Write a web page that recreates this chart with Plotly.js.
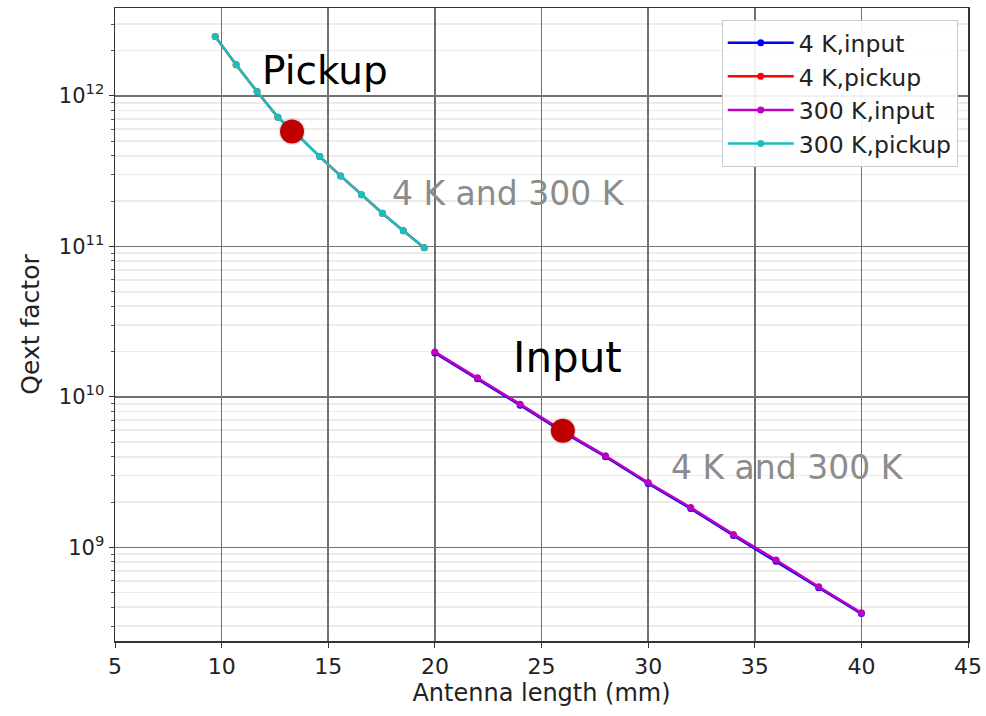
<!DOCTYPE html>
<html>
<head>
<meta charset="utf-8">
<script src="https://cdn.plot.ly/plotly-3.0.1.min.js"></script>
<style>html,body{margin:0;padding:0;background:#fff;}#chart{width:986px;height:716px;}</style>
</head>
<body>
<div id="chart"></div>
<script>
// Antenna length (mm)
const inputLength = [20, 22, 24, 26, 28, 30, 32, 34, 36, 38, 40];
const pickupLength = [9.7, 10.68, 11.66, 12.64, 13.62, 14.6, 15.58, 16.56, 17.54, 18.52, 19.5];

// Qext factor
const q4KInput = [1.96e10, 1.32e10, 8.8e9, 5.85e9, 4.0e9, 2.66e9, 1.81e9, 1.2e9, 8.1e8, 5.4e8, 3.63e8];
const q300KInput = [1.99e10, 1.34e10, 8.95e9, 5.95e9, 4.06e9, 2.70e9, 1.84e9, 1.22e9, 8.24e8, 5.48e8, 3.68e8];
const q4KPickup = [2.48e12, 1.61e12, 1.07e12, 7.2e11, 5.4e11, 3.95e11, 2.94e11, 2.2e11, 1.66e11, 1.27e11, 9.8e10];
const q300KPickup = [2.48e12, 1.61e12, 1.07e12, 7.2e11, 5.4e11, 3.95e11, 2.94e11, 2.2e11, 1.66e11, 1.27e11, 9.8e10];

// Highlighted operating points
const opLength = [13.3, 26];
const opQ = [5.8e11, 5.95e9];

const seriesNames = ['4 K,input', '4 K,pickup', '300 K,input', '300 K,pickup'];
const tickVals = [1e9, 1e10, 1e11, 1e12];
const tickText = ['10<sup>9</sup>', '10<sup>10</sup>', '10<sup>11</sup>', '10<sup>12</sup>'];
const xTicks = [5, 10, 15, 20, 25, 30, 35, 40, 45];

// minor log ticks (2..9 per decade)
const minorVals = [];
for (let e = 8; e <= 12; e++) for (let m = 2; m <= 9; m++) minorVals.push(m * Math.pow(10, e));

const line = (x, y, name, color) => ({
  x: x, y: y, name: name, type: 'scatter', mode: 'lines+markers',
  line: {color: color, width: 2.5},
  marker: {color: color, size: 7}
});

const traces = [
  line(inputLength, q4KInput, seriesNames[0], '#0000ff'),
  line(pickupLength, q4KPickup, seriesNames[1], '#ff0000'),
  line(inputLength, q300KInput, seriesNames[2], '#bf00bf'),
  line(pickupLength, q300KPickup, seriesNames[3], '#17bfbf'),
  {x: opLength, y: opQ, type: 'scatter', mode: 'markers', showlegend: false,
   marker: {color: 'rgba(0,0,0,0.10)', size: 27}},
  {x: opLength, y: opQ, type: 'scatter', mode: 'markers', showlegend: false,
   marker: {color: '#c00000', size: 24}}
];

const font = 'DejaVu Sans, sans-serif';
const layout = {
  width: 986, height: 716,
  margin: {l: 115, r: 18, t: 8, b: 75},
  paper_bgcolor: '#fff', plot_bgcolor: '#fff',
  font: {family: font, size: 20, color: '#222'},
  showlegend: true,
  legend: {
    x: 0.988, y: 0.981, xanchor: 'right', yanchor: 'top',
    bgcolor: 'rgba(255,255,255,0.9)', bordercolor: '#cccccc', borderwidth: 1,
    itemwidth: 66,
    font: {family: font, size: 23.5, color: '#222'}
  },
  xaxis: {
    range: [5, 45], tickvals: xTicks, ticks: 'outside', ticklen: 5,
    tickcolor: '#333', showline: true, linecolor: '#333', linewidth: 1.5, mirror: true,
    showgrid: true, gridcolor: '#707070', gridwidth: 1.6, zeroline: false,
    tickfont: {family: font, size: 22, color: '#222'},
    title: {text: 'Antenna length (mm)', font: {family: font, size: 24, color: '#222'}, standoff: 3}
  },
  yaxis: {
    type: 'log', range: [8.378, 12.584], tickvals: tickVals, ticktext: tickText,
    ticks: 'outside', ticklen: 5, tickcolor: '#333',
    showline: true, linecolor: '#333', linewidth: 1.5, mirror: true,
    showgrid: true, gridcolor: '#707070', gridwidth: 1.6, zeroline: false,
    minor: {tickvals: minorVals, showgrid: true, gridcolor: '#ebebeb', ticks: 'outside', ticklen: 3, tickcolor: '#555'},
    tickfont: {family: font, size: 21, color: '#222'},
    title: {text: 'Qext factor', font: {family: font, size: 25, color: '#222'}, standoff: 12}
  },
  annotations: [
    {x: 14.85, y: 12.17, xref: 'x', yref: 'y', text: 'Pickup', showarrow: false,
     font: {family: font, size: 39, color: '#000'}},
    {x: 23.45, y: 11.35, xref: 'x', yref: 'y', text: '4 K and 300 K', showarrow: false,
     font: {family: font, size: 33, color: '#8c8c8c'}},
    {x: 26.2, y: 10.26, xref: 'x', yref: 'y', text: 'Input', showarrow: false,
     font: {family: font, size: 42, color: '#000'}},
    {x: 36.55, y: 9.53, xref: 'x', yref: 'y', text: '4 K and 300 K', showarrow: false,
     font: {family: font, size: 33, color: '#8c8c8c'}}
  ]
};

Plotly.newPlot('chart', traces, layout, {displayModeBar: false, staticPlot: true});
</script>
</body>
</html>
